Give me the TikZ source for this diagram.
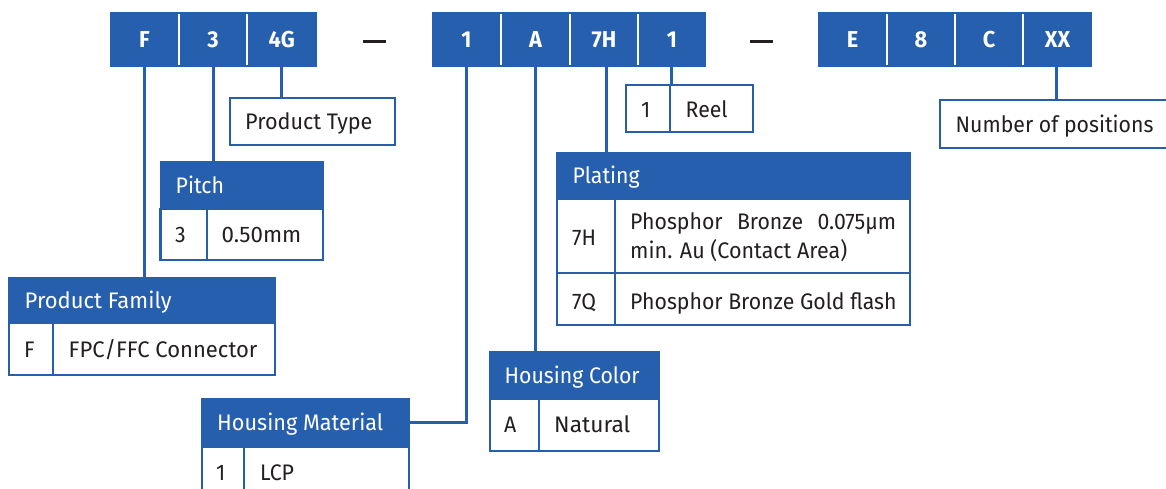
\documentclass[tikz,border=0pt]{standalone}
\usepackage{fontspec}
\setmainfont[FakeStretch=0.945]{Fira Sans}
\definecolor{brand}{HTML}{265FAD}
\definecolor{ink}{HTML}{231F20}
\tikzset{x=1pt,y=-1pt,
  box/.style={draw=brand,line width=2.8pt,fill=white,inner sep=0pt,outer sep=0pt,anchor=north west},
  head/.style={draw=none,fill=brand,inner sep=0pt,outer sep=0pt,anchor=north west},
  cell/.style={head,text=white,font=\fontsize{23}{23}\selectfont\bfseries},
  link/.style={draw=brand,line width=3pt},
  rule/.style={draw=brand,line width=2.8pt},
  sep/.style={draw=white,line width=2.2pt},
  txt/.style={text=ink,font=\fontsize{22.5}{26.5}\selectfont,inner sep=0pt,anchor=base west,align=left},
  htxt/.style={text=white,font=\fontsize{22.5}{26}\selectfont,inner sep=0pt,anchor=base west},
  wd/.style={xscale=#1,transform shape},
  dashmark/.style={draw=ink,line width=3pt}}
% name, x0, y0, x1, y1, style
\newcommand{\rct}[6]{\pgfmathsetmacro{\wa}{#4-#2}\pgfmathsetmacro{\ha}{#5-#3}%
  \node[#6,minimum width=\wa pt,minimum height=\ha pt] (#1) at (#2,#3) {};}
\newcommand{\topcell}[4]{\pgfmathsetmacro{\wa}{#3-#2}%
  \node[cell,minimum width=\wa pt,minimum height=55pt] (#1) at (#2,12) {#4};}
\begin{document}
\begin{tikzpicture}
\useasboundingbox (0,0) rectangle (1166,488);
\begin{scope}
\clip (0,0) rectangle (1166,488);
% top strip
\topcell{tF}{110}{179}{F}\topcell{tP}{179}{247}{3}\topcell{tG}{247}{316.6}{4G}
\topcell{tO}{432}{501}{1}\topcell{tA}{501}{570}{A}\topcell{tH}{570}{638}{7H}\topcell{tR}{638}{706}{1}
\topcell{tE}{818}{887}{E}\topcell{tN}{887}{955}{8}\topcell{tC}{955}{1023}{C}\topcell{tX}{1023}{1092}{XX}
\foreach \a in {tF,tP,tO,tA,tH,tE,tN,tC}{\draw[sep] ([yshift=-2pt]\a.north east) -- ([yshift=2pt]\a.south east);}
\coordinate (d1a) at (363,41);\coordinate (d1b) at (386,41);
\coordinate (d2a) at (750,41);\coordinate (d2b) at (773,41);
\draw[dashmark] (d1a) -- (d1b);\draw[dashmark] (d2a) -- (d2b);
% boxes
\rct{ptype}{230}{98}{395}{145}{box}
\node[txt,wd=1.016] (ptypeT) at (245,129) {Product Type};
\rct{reel}{626}{85}{753}{132}{box}
\rct{reelD}{626}{85}{670}{132}{box}
\node[txt] (reelA) at (641,117) {1};
\node[txt] (reelB) at (685.5,117) {Reel};
\rct{npos}{940}{100}{1172}{148}{box}
\node[txt] (nposT) at (955.5,132) {Number of positions};
% pitch
\rct{pitB}{160.5}{209}{323}{260}{box}
\rct{pitD}{160.5}{209}{207}{260}{box}
\rct{pitH}{159.5}{161}{323.5}{209}{head}
\node[htxt] (pitT) at (175.5,193) {Pitch};
\node[txt] (pitA) at (175,242) {3};
\node[txt,wd=1.05] (pitB2) at (221.5,242) {0.50mm};
% family
\rct{famB}{9}{323}{275}{375}{box}
\rct{famD}{9}{323}{53}{375}{box}
\rct{famH}{8}{277}{275.5}{323}{head}
\node[htxt,wd=1.035] (famT) at (24.5,308) {Product Family};
\node[txt] (famA) at (24,357) {F};
\node[txt,wd=1.035] (famB2) at (68.5,357) {FPC/FFC Connector};
% material
\rct{matB}{202}{447}{409}{500}{box}
\rct{matD}{202}{447}{244}{500}{box}
\rct{matH}{201}{398}{409.6}{447}{head}
\node[htxt,wd=1.018] (matT) at (217,430) {Housing Material};
\node[txt] (matA) at (216,480) {1};
\node[txt] (matB2) at (260,480) {LCP};
% colour
\rct{colB}{490}{399}{659}{451}{box}
\rct{colD}{490}{399}{539}{451}{box}
\rct{colH}{489}{351}{659.6}{399}{head}
\node[htxt] (colT) at (504.5,383) {Housing Color};
\node[txt] (colA) at (504,432) {A};
\node[txt,wd=1.07] (colB2) at (554,432) {Natural};
% plating
\rct{plaB}{557}{199}{910}{325}{box}
\rct{plaR}{557}{199}{910}{273}{box}
\rct{plaD}{557}{199}{615}{325}{box}
\draw[rule] (plaR.south west) -- (plaR.south east);
\rct{plaH}{556}{152}{910.6}{199}{head}
\node[htxt] (plaT) at (572.5,183) {Plating};
\node[txt] (plaA) at (572,245) {7H};
\node[txt] (plaC) at (572,309) {7Q};
\node[txt] (pla1) at (630,229) {Phosphor\hspace{.39em} Bronze\hspace{.39em} 0.075µm};
\node[txt,wd=1.01] (pla2) at (630,258) {min. Au (Contact Area)};
\node[txt] (pla3) at (630,309) {Phosphor Bronze Gold flash};
% connectors
\draw[link] (tF.south) -- (tF.south |- famH.north);
\draw[link] (tP.south) -- (tP.south |- pitH.north);
\draw[link] ([xshift=-.6pt]tG.south) -- ([xshift=-.6pt]tG.south |- ptype.north);
\draw[link] (tO.south) -- (tO.south |- matH.east) -- (matH.east);
\draw[link] (tA.south) -- (tA.south |- colH.north);
\draw[link] ([xshift=2pt]tH.south) -- ([xshift=2pt]tH.south |- plaH.north);
\draw[link] ([xshift=-.6pt]tR.south) -- ([xshift=-.6pt]tR.south |- reel.north);
\draw[link] ([xshift=-.6pt]tX.south) -- ([xshift=-.6pt]tX.south |- npos.north);
\end{scope}
\end{tikzpicture}
\end{document}
